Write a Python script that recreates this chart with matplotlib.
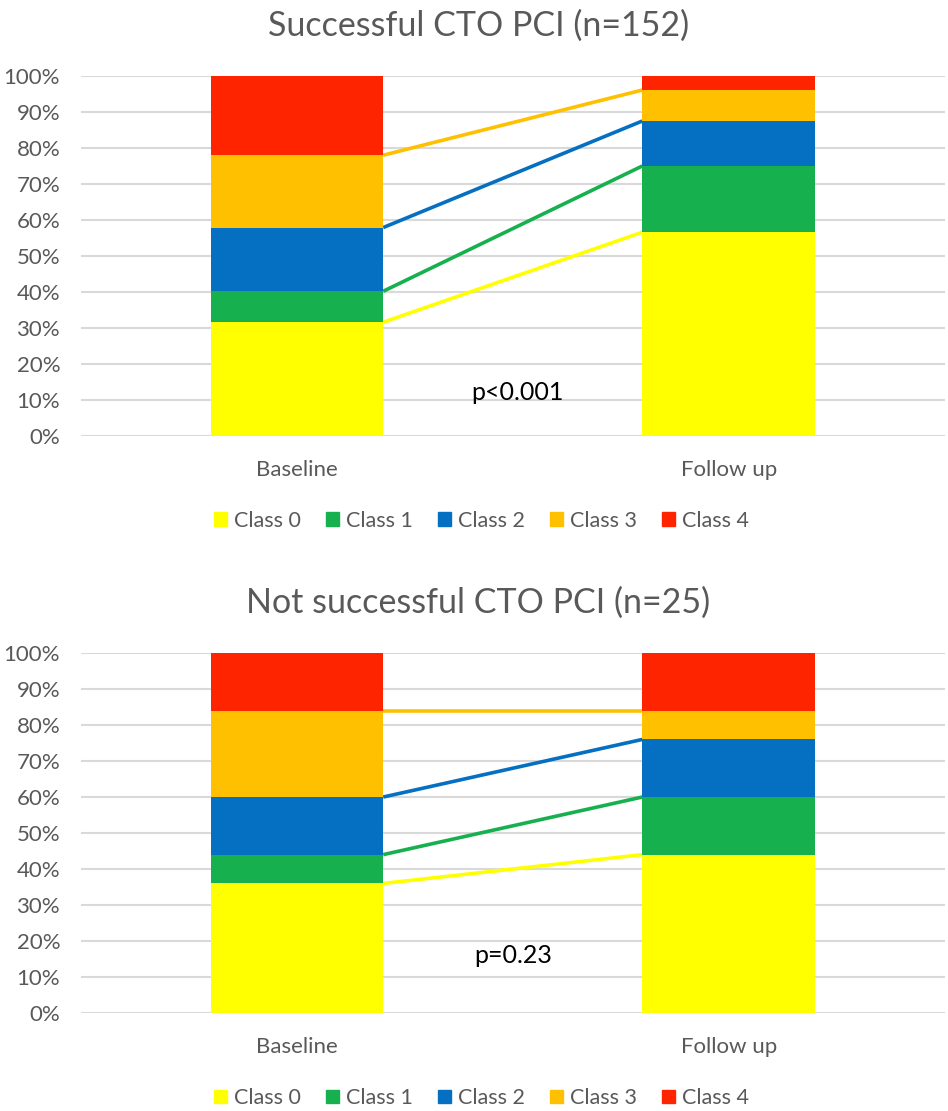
import matplotlib
matplotlib.use('Agg')
import matplotlib.pyplot as plt
from matplotlib.patches import Patch
import numpy as np

plt.rcParams['font.family'] = ['Lato', 'DejaVu Sans']

# percentages per class, [Baseline, Follow up]
groups = ['Baseline', 'Follow up']
classes = ['Class 0', 'Class 1', 'Class 2', 'Class 3', 'Class 4']
colors = ['#FFFF00', '#17B04F', '#0570C1', '#FFC000', '#FF2400']

succ_title = 'Successful CTO PCI (n=152)'
succ_vals = [
    [31.6, 56.6],   # class 0
    [8.6, 18.4],    # class 1
    [17.7, 12.5],   # class 2
    [20.1, 8.6],    # class 3
    [22.0, 3.9],    # class 4
]
succ_p = 'p<0.001'

fail_title = 'Not successful CTO PCI (n=25)'
fail_vals = [
    [36, 44],
    [8, 16],
    [16, 16],
    [24, 8],
    [16, 16],
]
fail_p = 'p=0.23'

gray = '#595959'
bw = 0.40


def draw(ax, title, vals, ptxt, p_pos):
    x = np.arange(len(groups))
    vals = np.array(vals, dtype=float)
    bottom = np.zeros(len(groups))
    for i in range(len(classes)):
        ax.bar(x, vals[i], bw, bottom=bottom, color=colors[i], zorder=3)
        bottom = bottom + vals[i]
        if i < len(classes) - 1:
            ax.plot([x[0] + bw / 2, x[1] - bw / 2], bottom, color=colors[i], lw=2.6,
                    zorder=3, solid_capstyle='butt')
    ax.set_xlim(-0.5, 1.5)
    ax.set_ylim(0, 100)
    ax.set_yticks(np.arange(0, 101, 10))
    ax.set_yticklabels(['%d%%' % v for v in range(0, 101, 10)])
    ax.set_xticks(x)
    ax.set_xticklabels(groups)
    ax.tick_params(length=0, labelsize=16, colors=gray)
    ax.tick_params(axis='x', pad=17.5)
    ax.tick_params(axis='y', pad=15)
    ax.grid(axis='y', color='#D9D9D9', lw=1.5, zorder=0)
    for s in ax.spines.values():
        s.set_visible(False)
    ax.set_title(title, fontsize=24.5, color=gray, pad=29, x=0.46)
    ax.text(p_pos[0], p_pos[1], ptxt, fontsize=18, ha='center', va='center', color='black', zorder=4)
    handles = [Patch(color=c, label=l) for c, l in zip(colors, classes)]
    ax.legend(handles=handles, loc='center', bbox_to_anchor=(0.464, -0.236), ncol=5, frameon=False,
              fontsize=15.5, handlelength=0.6, handleheight=0.6, handletextpad=0.33,
              columnspacing=1.16, labelcolor=gray)


fig = plt.figure(figsize=(9.48, 11.11), dpi=100)
ax1 = fig.add_axes([0.0854, 0.6076, 0.911, 0.324])
ax2 = fig.add_axes([0.0854, 0.0882, 0.911, 0.324])
draw(ax1, succ_title, succ_vals, succ_p, (0.51, 12.2))
draw(ax2, fail_title, fail_vals, fail_p, (0.50, 15.9))

fig.savefig('out.png', dpi=100)
